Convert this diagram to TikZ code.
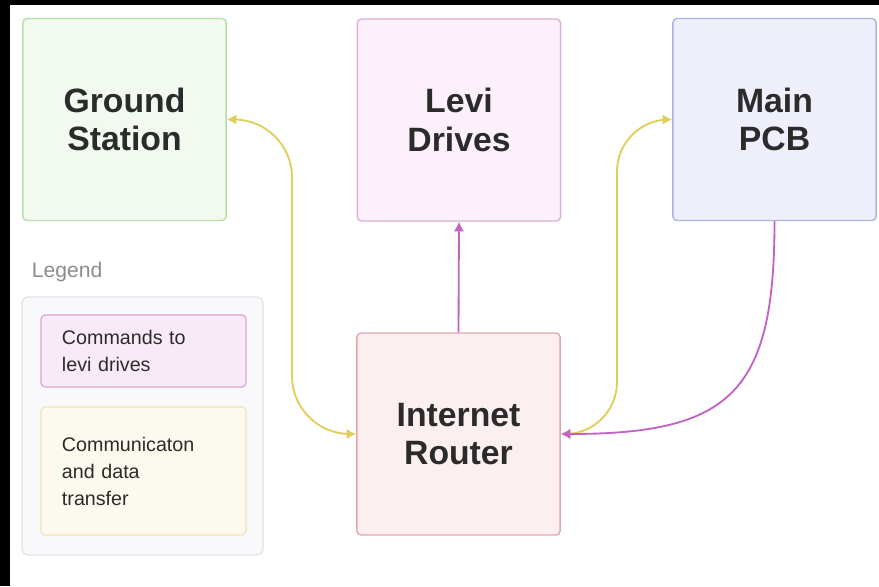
\documentclass[tikz,border=0pt]{standalone}
\usepackage{fontspec}
\setmainfont{Liberation Sans}
\usetikzlibrary{arrows.meta}

\definecolor{textdark}{HTML}{2B2B2B}
\definecolor{legendgray}{HTML}{8C8C8C}
\definecolor{groundfill}{HTML}{F2F9EF}
\definecolor{groundedge}{HTML}{B9DFA9}
\definecolor{levifill}{HTML}{FCF0FA}
\definecolor{leviedge}{HTML}{DDB0DA}
\definecolor{pcbfill}{HTML}{EEEFFB}
\definecolor{pcbedge}{HTML}{B0B0E0}
\definecolor{routerfill}{HTML}{FCEFF0}
\definecolor{routeredge}{HTML}{E0A8B4}
\definecolor{legendfill}{HTML}{F9F9FB}
\definecolor{legendedge}{HTML}{E2E2E8}
\definecolor{cmdfill}{HTML}{F9EAF7}
\definecolor{cmdedge}{HTML}{D8A8D4}
\definecolor{commfill}{HTML}{FCFAEE}
\definecolor{commedge}{HTML}{EEE6B8}
\definecolor{flowyellow}{HTML}{E0CE5A}
\definecolor{flowpurple}{HTML}{C462C4}

\begin{document}
\begin{tikzpicture}[x=0.025cm,y=-0.025cm,
  block/.style={rectangle,line width=1pt,minimum width=5.08cm,minimum height=5.05cm,rounded corners=3pt,align=center,font=\fontsize{24}{27.5}\selectfont\bfseries,text=textdark},
  legbox/.style={rectangle,line width=0.9pt,minimum width=5.125cm,rounded corners=3pt,align=left,text width=4.075cm,inner xsep=0.525cm,font=\fontsize{14}{19.2}\selectfont,text=textdark},
  dataflow/.style={draw=flowyellow,line width=1.3pt,{Latex[length=2.4mm,width=2.6mm]}-{Latex[length=2.4mm,width=2.6mm]}},
  cmdflow/.style={draw=flowpurple,line width=1.3pt,-{Latex[length=2.4mm,width=2.6mm]}}]

  \useasboundingbox (0,0) rectangle (879,586);
  \fill[white] (0,0) rectangle (879,586);
  \fill[black] (0,0) rectangle (879,5);
  \fill[black] (0,0) rectangle (10,586);

  %blocks
  \node[block,draw=groundedge,fill=groundfill] (ground) at (124.5,119.5){Ground\\Station};
  \node[block,draw=leviedge,fill=levifill] (levi) at (459,120){Levi\\Drives};
  \node[block,draw=pcbedge,fill=pcbfill] (pcb) at (774.5,119.5){Main\\PCB};
  \node[block,draw=routeredge,fill=routerfill] (router) at (458.5,434){Internet\\Router};

  %legend
  \node[anchor=base west,font=\fontsize{15}{18}\selectfont,text=legendgray] (legendtitle) at (27,277){Legend};
  \node[rectangle,draw=legendedge,fill=legendfill,line width=0.9pt,rounded corners=4pt,minimum width=6.025cm,minimum height=6.45cm] (legend) at (142.5,426){};
  \node[legbox,draw=cmdedge,fill=cmdfill,minimum height=1.8cm] (cmdkey) at (143.5,351){Commands to\\levi drives};
  \node[legbox,draw=commedge,fill=commfill,minimum height=3.2cm] (commkey) at (143.5,471){Communicaton\\and data\\transfer};

  %connections
  \coordinate (ybendL) at (292,275);
  \coordinate (ybendR) at (617,275);
  \draw[dataflow,rounded corners=1.45cm] (ground.east) -| (ybendL) |- (router.west);
  \draw[dataflow,rounded corners=1.3cm] (router.east) -| (ybendR) |- (pcb.west);
  \draw[cmdflow] (router.north) -- (levi.south);
  \draw[cmdflow] (pcb.south) to[out=-90,in=0,looseness=1.45] (router.east);

\end{tikzpicture}
\end{document}
